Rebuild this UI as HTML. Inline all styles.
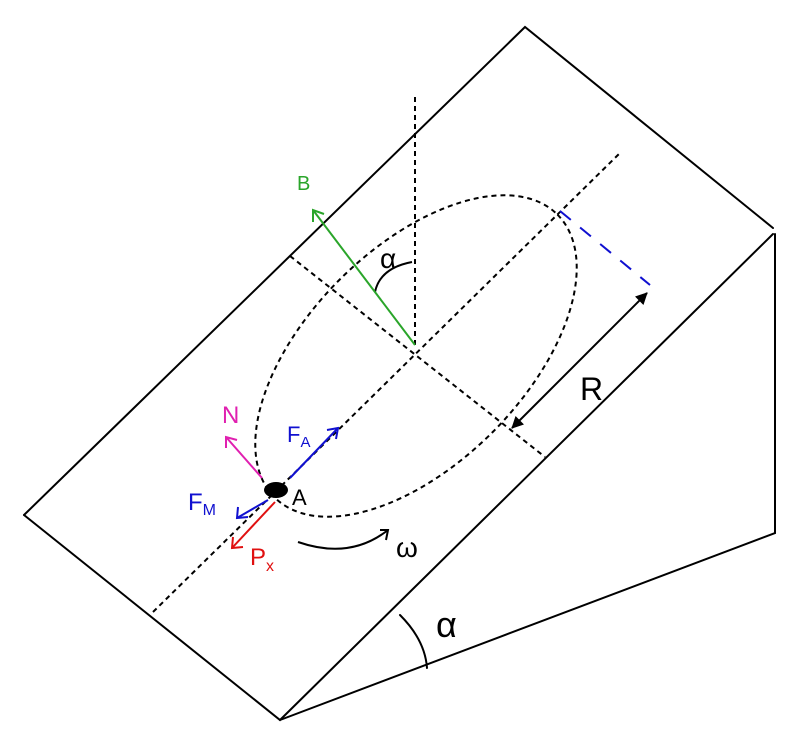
<!DOCTYPE html>
<html><head><meta charset="utf-8"><style>html,body{margin:0;padding:0;background:#fff}svg{display:block}</style></head>
<body>
<svg width="811" height="737" viewBox="0 0 811 737" xmlns="http://www.w3.org/2000/svg" font-family="Liberation Sans, sans-serif">
<defs>
<marker id="ah" markerWidth="12" markerHeight="12" refX="11" refY="6" orient="auto-start-reverse" markerUnits="userSpaceOnUse"><path d="M0,0 L12,6 L0,12 z" fill="#000"/></marker>
</defs>
<g stroke="#000" stroke-width="2" fill="none" stroke-linecap="round">
<path d="M24,515 L525,27 L773,228"/>
<path d="M24,515 L280,720 L773,234"/>
<path d="M775,234 L775,533 L280,720"/>
<path d="M400,615 Q425,640 427,668"/>
</g>
<g stroke="#000" stroke-width="2" fill="none" stroke-dasharray="5,4">
<path d="M415,97 L415,345"/>
<path d="M153,612 L620,153"/>
<path d="M290,256 L545,457"/>
<ellipse cx="416" cy="356" rx="200" ry="108" transform="rotate(-45 416 356)"/>
</g>
<path d="M560,211 L650,285" stroke="#1010d0" stroke-width="2" stroke-dasharray="14,12" fill="none"/>
<g stroke="#000" stroke-width="2" fill="none">
<path d="M512,428 L647,293" marker-start="url(#ah)" marker-end="url(#ah)"/>
<path d="M375,292 Q380,268 412,262"/>
<path d="M298,542 Q350,560 388,530"/>
<path d="M380,530 L388,530 L386,540"/>
</g>
<g stroke="#2aa52a" stroke-width="2" fill="none">
<path d="M415,345 L313,210"/><path d="M313,222 L313,210 L324,214"/>
</g>
<g stroke="#e020b0" stroke-width="2" fill="none"><path d="M262,478 L226,437"/><path d="M226,448 L226,437 L237,440"/></g>
<g stroke="#1010d0" stroke-width="2" fill="none">
<path d="M290,478 L338,428"/><path d="M327,430 L338,428 L336,439"/>
<path d="M268,500 L237,518"/><path d="M238,507 L237,518 L248,517"/>
</g>
<g stroke="#e01010" stroke-width="2" fill="none"><path d="M275,502 L232,548"/><path d="M233,537 L232,548 L243,547"/></g>
<ellipse cx="276" cy="490" rx="12" ry="8" fill="#000"/>
<text x="292" y="505" font-size="22" fill="#000">A</text>
<text x="297" y="190" font-size="20" fill="#2aa52a">B</text>
<text x="222" y="423" font-size="24" fill="#e020b0">N</text>
<text x="287" y="442" font-size="22" fill="#1010d0">F<tspan font-size="15" dy="5">A</tspan></text>
<text x="188" y="510" font-size="24" fill="#1010d0">F<tspan font-size="16" dy="5">M</tspan></text>
<text x="250" y="565" font-size="24" fill="#e01010">P<tspan font-size="16" dy="6">x</tspan></text>
<text x="396" y="557" font-size="28" fill="#000">ω</text>
<text x="580" y="400" font-size="32" fill="#000">R</text>
<text x="380" y="268" font-size="28" fill="#000">α</text>
<text x="436" y="637" font-size="36" fill="#000">α</text>
</svg>
</body></html>
